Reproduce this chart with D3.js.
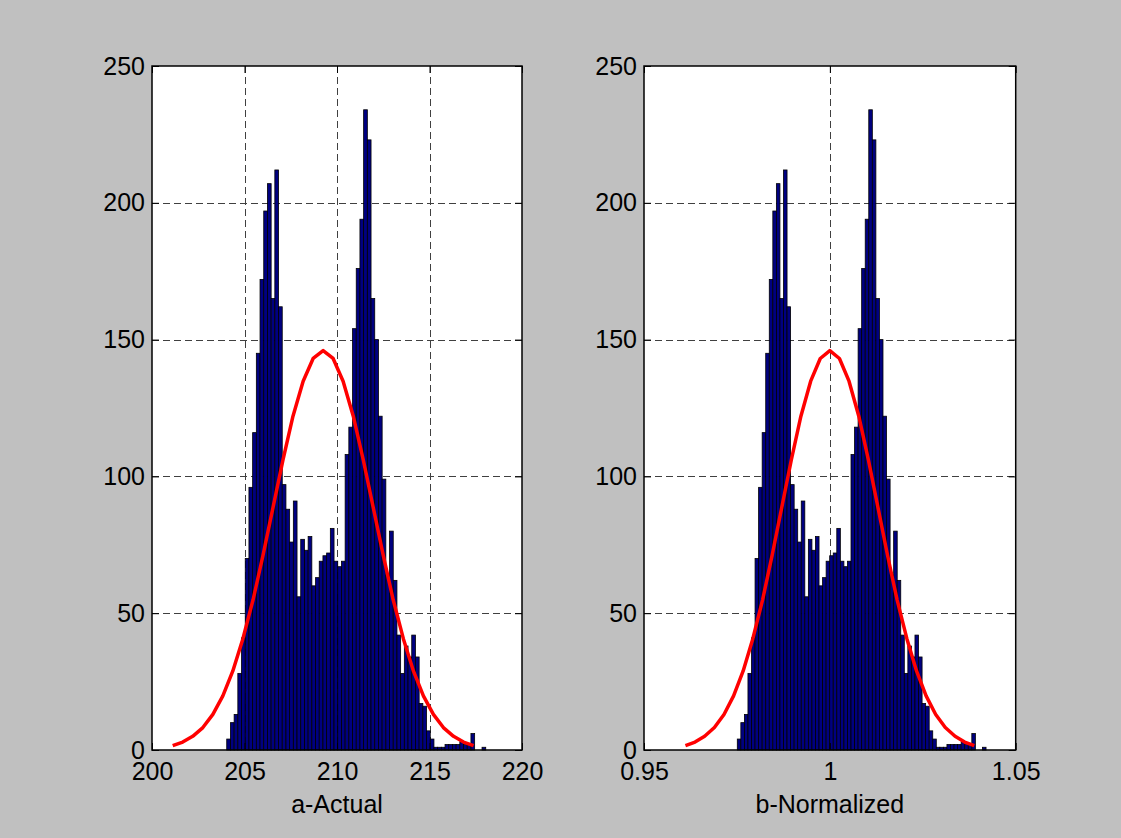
<!DOCTYPE html>
<html>
<head>
<meta charset="UTF-8">
<title>hist</title>
<script src="https://cdn.jsdelivr.net/npm/d3@7"></script>
<style>
body{margin:0;background:#c0c0c0;}
svg{display:block;}
text{font-family:"Liberation Sans",Arial,sans-serif;font-size:25px;fill:#000;}
</style>
</head>
<body>
<script>
// histogram counts (70 bins), same counts in both panels
var counts = [4,10,13,28,41,70,96,116,145,172,197,207,165,212,162,
  97,88,76,91,56,77,73,78,60,63,69,71,72,81,69,67,69,
  108,118,154,176,194,234,223,165,150,122,99,
  64,80,62,42,28,38,34,42,34,17,16,7,4,
  1,1,1,2,2,2,2,3,2,2,6,0,0,1];
var binStartA = 204.04, binWidthA = 0.2;
var binStartB = 0.9751, binWidthB = 0.000956;

// fitted normal curve (red line)
var curveXA = [201.12,201.66,202.20,202.75,203.29,203.83,204.37,204.91,205.46,206.00,206.54,207.08,207.62,208.17,208.71,
  209.25,209.79,210.33,210.88,211.42,211.96,212.50,213.04,213.59,214.13,214.67,215.21,215.75,216.30,216.84,217.38];
var curveXB = [0.96115,0.96373,0.96631,0.96894,0.97152,0.97410,0.97668,0.97926,0.98189,0.98447,0.98705,0.98963,0.99221,0.99484,0.99742,
  1.00000,1.00258,1.00516,1.00779,1.01037,1.01295,1.01553,1.01811,1.02074,1.02332,1.02590,1.02848,1.03106,1.03369,1.03627,1.03885];
var curveY = [1.6,2.9,5.0,8.2,13.0,19.8,28.9,40.6,54.8,71.1,88.6,106.0,122.0,134.8,143.1,
  146.0,143.1,134.8,122.0,106.0,88.6,71.1,54.8,40.6,28.9,19.8,13.0,8.2,5.0,2.9,1.6];

var ticksXA = [200,205,210,215,220];
var ticksXB = [0.95,1,1.05];
var ticksY = [0,50,100,150,200,250];
var labelA = "a-Actual";
var labelB = "b-Normalized";

var w = 1121, h = 838;
var plotTop = 66, plotBottom = 750;

var svg = d3.select("body").append("svg")
  .attr("width", w)
  .attr("height", h);

var y = d3.scaleLinear().domain([0,250]).range([plotBottom, plotTop]);

function drawPanel(left, right, xDomain, binStart, binWidth, curveX, xTicks, label) {
  var x = d3.scaleLinear().domain(xDomain).range([left, right]);
  var g = svg.append("g");

  // white plot area
  g.append("rect")
    .attr("x", left).attr("y", plotTop)
    .attr("width", right - left).attr("height", plotBottom - plotTop)
    .attr("fill", "#fff");

  // dashed grid
  var grid = g.append("g").attr("stroke", "#404040").attr("stroke-width", 1).attr("stroke-dasharray", "7,4");
  grid.selectAll("line.gx")
    .data(xTicks.filter(function(d){ return d > xDomain[0] && d < xDomain[1]; }))
    .enter().append("line")
    .attr("x1", function(d){ return Math.round(x(d)) + 0.5; })
    .attr("x2", function(d){ return Math.round(x(d)) + 0.5; })
    .attr("y1", plotTop).attr("y2", plotBottom);
  grid.selectAll("line.gy")
    .data(ticksY.filter(function(d){ return d > 0 && d < 250; }))
    .enter().append("line")
    .attr("y1", function(d){ return Math.round(y(d)) + 0.5; })
    .attr("y2", function(d){ return Math.round(y(d)) + 0.5; })
    .attr("x1", left).attr("x2", right);

  // bars
  g.append("g").selectAll("rect")
    .data(counts.map(function(c, i){ return {i: i, c: c}; }).filter(function(d){ return d.c > 0; }))
    .enter().append("rect")
    .attr("x", function(d){ return x(binStart + d.i * binWidth); })
    .attr("width", function(d){ return x(binStart + (d.i + 1) * binWidth) - x(binStart + d.i * binWidth); })
    .attr("y", function(d){ return y(d.c); })
    .attr("height", function(d){ return y(0) - y(d.c); })
    .attr("fill", "#000080")
    .attr("stroke", "#000")
    .attr("stroke-width", 0.8);

  // red curve
  var line = d3.line()
    .x(function(d){ return x(d[0]); })
    .y(function(d){ return y(d[1]); });
  g.append("path")
    .datum(curveX.map(function(v, i){ return [v, curveY[i]]; }))
    .attr("d", line)
    .attr("fill", "none")
    .attr("stroke", "#ff0000")
    .attr("stroke-width", 3.5)
    .attr("stroke-linejoin", "round");

  // axes with inward ticks
  var fmt = function(d){ return String(d); };
  var ax = g.append("g").attr("transform", "translate(0," + plotBottom + ")")
    .call(d3.axisBottom(x).tickValues(xTicks).tickFormat(fmt).tickSizeInner(-7).tickSizeOuter(0).tickPadding(12));
  var ay = g.append("g").attr("transform", "translate(" + left + ",0)")
    .call(d3.axisLeft(y).tickValues(ticksY).tickSizeInner(-7).tickSizeOuter(0).tickPadding(7));
  var at = g.append("g").attr("transform", "translate(0," + plotTop + ")")
    .call(d3.axisTop(x).tickValues(xTicks).tickFormat("").tickSizeInner(-7).tickSizeOuter(0));
  var ar = g.append("g").attr("transform", "translate(" + right + ",0)")
    .call(d3.axisRight(y).tickValues(ticksY).tickFormat("").tickSizeInner(-7).tickSizeOuter(0));
  [ax, ay, at, ar].forEach(function(a){
    a.attr("font-size", null).attr("font-family", null);
    a.select(".domain").remove();
  });

  // box
  g.append("rect")
    .attr("x", left).attr("y", plotTop)
    .attr("width", right - left).attr("height", plotBottom - plotTop)
    .attr("fill", "none")
    .attr("stroke", "#000")
    .attr("stroke-width", 1.5);

  g.append("text")
    .attr("x", (left + right) / 2)
    .attr("y", 813)
    .attr("text-anchor", "middle")
    .text(label);
}

drawPanel(152, 522, [200, 220], binStartA, binWidthA, curveXA, ticksXA, labelA);
drawPanel(644, 1015.7, [0.95, 1.05], binStartB, binWidthB, curveXB, ticksXB, labelB);
</script>
</body>
</html>
